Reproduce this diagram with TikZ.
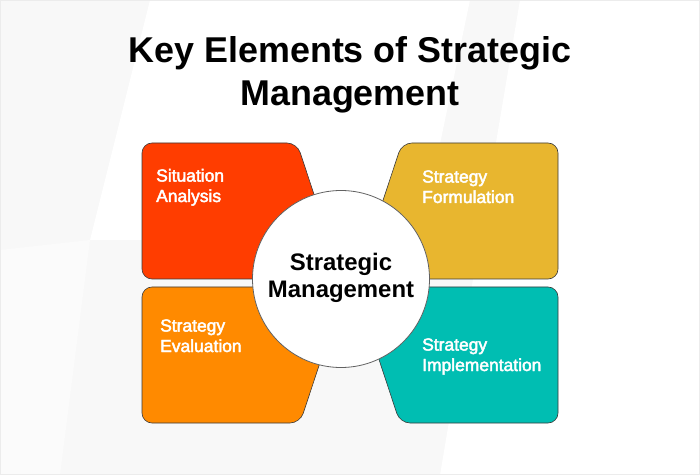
\documentclass[tikz,border=0pt]{standalone}
\usepackage{fontspec}
\setmainfont{Liberation Sans}
\usetikzlibrary{positioning}
\definecolor{situation}{HTML}{FF3D00}
\definecolor{formulation}{HTML}{E8B62F}
\definecolor{evaluation}{HTML}{FF8A00}
\definecolor{implementation}{HTML}{00BEB2}
\definecolor{edgegray}{HTML}{3A3A3A}
\definecolor{backdrop}{HTML}{F8F8F8}
% slightly heavier white lettering
\newcommand\thickletters[1]{\special{pdf:literal 2 Tr 0.45 w}#1\special{pdf:literal 0 Tr}}

\begin{document}
\begin{tikzpicture}[x=1bp,y=-1bp,
  box/.style={draw=edgegray,line width=0.6bp,rounded corners=10bp},
  boxtext/.style={text=white,font=\fontsize{17.5}{20.5}\selectfont,align=left,anchor=base west,inner sep=0pt},
  hub/.style={circle,draw=edgegray!80,line width=0.8bp,fill=white,minimum size=177bp,inner sep=0pt},
  hubtext/.style={font=\bfseries\fontsize{24}{28}\selectfont,align=center,anchor=base,inner sep=0pt},
  headline/.style={font=\bfseries\fontsize{36}{44}\selectfont,align=center,anchor=base,inner sep=0pt}]
  \useasboundingbox (0,0) rectangle (700,475);
  % background
  \fill[backdrop] (0,0) rectangle (700,475);
  \fill[white] (150,0) -- (470,0) -- (420,240) -- (90,240) -- cycle;
  \fill[white] (520,0) -- (700,0) -- (700,475) -- (440,475) -- cycle;
  \fill[white!50!backdrop] (0,250) -- (90,240) -- (60,475) -- (0,475) -- cycle;
  \draw[gray!15,line width=1bp] (0.5,0.5) rectangle (699.5,474.5);
  % title
  \node[headline] (title) at (350,106) {Key Elements of Strategic\\Management};
  % four parts
  \path[box,fill=situation] (142,143) -- (297,143) -- (342,279) -- (142,279) -- cycle;
  \path[box,fill=formulation] (402,143) -- (558,143) -- (558,279) -- (357,279) -- cycle;
  \path[box,fill=evaluation] (142,287) -- (345,287) -- (300,423) -- (142,423) -- cycle;
  \path[box,fill=implementation] (355,287) -- (558,287) -- (558,423) -- (400,423) -- cycle;
  \node[boxtext] (analysis) at (156,202) {\thickletters{Situation}\\\thickletters{Analysis}};
  \node[boxtext] (formulate) at (422,203) {\thickletters{Strategy}\\\thickletters{Formulation}};
  \node[boxtext] (evaluate) at (160,352) {\thickletters{Strategy}\\\thickletters{Evaluation}};
  \node[boxtext] (implement) at (422,371) {\thickletters{Strategy}\\\thickletters{Implementation}};
  % centre
  \node[hub] (hub) at (341,279) {};
  \node[hubtext] (hubname) at (341,298) {Strategic\\Management};
\end{tikzpicture}
\end{document}
